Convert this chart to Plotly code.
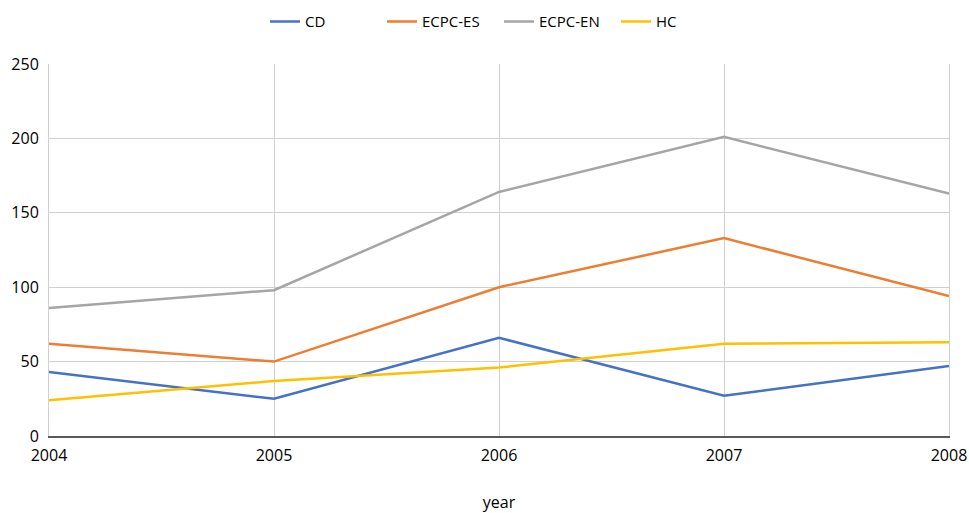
import plotly.graph_objects as go

years = [2004, 2005, 2006, 2007, 2008]
cd = [43, 25, 66, 27, 47]
ecpc_es = [62, 50, 100, 133, 94]
ecpc_en = [86, 98, 164, 201, 163]
hc = [24, 37, 46, 62, 63]

series = [
    ("CD", cd, "#4472C4"),
    ("ECPC-ES", ecpc_es, "#ED7D31"),
    ("ECPC-EN", ecpc_en, "#A5A5A5"),
    ("HC", hc, "#FFC000"),
]

fig = go.Figure()
for name, vals, col in series:
    fig.add_trace(go.Scatter(x=years, y=vals, name=name, mode="lines",
                             line=dict(color=col, width=2.5)))

fig.update_layout(
    width=969, height=513,
    margin=dict(l=49, r=20, t=64, b=77),
    plot_bgcolor="white", paper_bgcolor="white",
    font=dict(family="Open Sans", size=16, color="#000000"),
    legend=dict(orientation="h", x=0.5, xanchor="center", y=0.99, yanchor="top",
                yref="container", font=dict(size=15), entrywidth=72,
                itemwidth=30),
    showlegend=True,
)
fig.update_xaxes(
    range=[2004, 2008], tickvals=years, showgrid=True, gridcolor="#D0D0D0", gridwidth=1,
    showline=True, linecolor="#595959", linewidth=2, zeroline=False,
    title=dict(text="year", standoff=42, font=dict(size=16)),
    ticks="", mirror=False, automargin=False, ticklabelstandoff=4,
)
fig.update_yaxes(
    range=[0, 250], tickvals=[0, 50, 100, 150, 200, 250], showgrid=True,
    gridcolor="#D0D0D0", gridwidth=1, zeroline=False, showline=True,
    linecolor="#D0D0D0", linewidth=1, mirror=True, ticks="", automargin=False,
    ticklabelstandoff=6,
)
fig.write_html("out.html")
